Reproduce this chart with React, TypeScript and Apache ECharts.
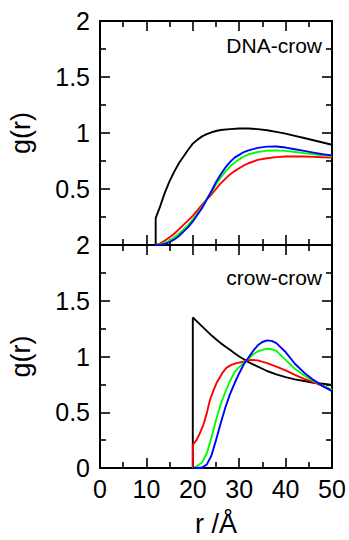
import React, { useEffect, useRef } from "react";
import * as echarts from "echarts";

// ---- data ----
const xTicks = [0, 10, 20, 30, 40, 50];

// DNA-crow panel
const rDnaBlack = [0, 12, 12, 13, 14, 15, 16, 17, 18, 19, 20, 21, 22, 23, 24, 25, 26, 28, 30, 32, 34, 36, 38, 40, 42, 44, 46, 48, 50];
const gDnaBlack = [0, 0, 0.24, 0.35, 0.47, 0.57, 0.655, 0.73, 0.79, 0.85, 0.905, 0.94, 0.97, 0.99, 1.005, 1.018, 1.027, 1.035, 1.04, 1.04, 1.035, 1.025, 1.01, 0.995, 0.975, 0.955, 0.935, 0.915, 0.895];

const rDnaColor = [12, 13, 14, 15, 16, 17, 18, 19, 20, 21, 22, 23, 24, 25, 26, 27, 28, 29, 30, 31, 32, 34, 36, 38, 40, 42, 44, 46, 48, 50];
const gDnaRed = [0, 0.015, 0.04, 0.07, 0.1, 0.14, 0.18, 0.22, 0.26, 0.31, 0.36, 0.405, 0.45, 0.5, 0.55, 0.59, 0.63, 0.66, 0.685, 0.71, 0.73, 0.76, 0.775, 0.785, 0.79, 0.79, 0.79, 0.787, 0.783, 0.78];
const gDnaGreen = [0, 0.008, 0.02, 0.04, 0.07, 0.1, 0.14, 0.18, 0.23, 0.28, 0.34, 0.41, 0.47, 0.54, 0.6, 0.655, 0.7, 0.735, 0.765, 0.79, 0.81, 0.83, 0.843, 0.845, 0.84, 0.83, 0.82, 0.81, 0.8, 0.795];
const gDnaBlue = [0, 0.003, 0.01, 0.025, 0.05, 0.08, 0.12, 0.16, 0.21, 0.27, 0.33, 0.405, 0.48, 0.56, 0.63, 0.69, 0.74, 0.78, 0.805, 0.83, 0.845, 0.867, 0.878, 0.88, 0.87, 0.855, 0.84, 0.825, 0.81, 0.8];

// crow-crow panel
const rCcBlack = [0, 20, 20, 21, 22, 23, 24, 25, 26, 27, 28, 29, 30, 31, 32, 33, 34, 35, 36, 38, 40, 42, 44, 46, 48, 50];
const gCcBlack = [0, 0, 1.35, 1.31, 1.27, 1.23, 1.19, 1.155, 1.12, 1.09, 1.06, 1.03, 1.0, 0.975, 0.95, 0.93, 0.91, 0.89, 0.87, 0.84, 0.815, 0.795, 0.78, 0.765, 0.755, 0.745];

const rCcRed = [20, 20, 20.8, 21.5, 22.3, 23, 23.7, 24.4, 25.2, 26.5, 27.3, 28.3, 29.4, 31.2, 32.5, 34, 36, 38, 40, 42, 44, 46, 48, 50];
const gCcRed = [0, 0.21, 0.25, 0.31, 0.39, 0.49, 0.61, 0.69, 0.77, 0.86, 0.9, 0.925, 0.94, 0.955, 0.97, 0.965, 0.94, 0.91, 0.875, 0.835, 0.8, 0.77, 0.735, 0.7];

const rCcColor = [20, 21, 22, 23, 24, 25, 26, 27, 28, 29, 30, 31, 32, 33, 34, 35, 36, 37, 38, 40, 42, 44, 46, 48, 50];
const gCcGreen = [0, 0.02, 0.05, 0.13, 0.27, 0.43, 0.57, 0.68, 0.78, 0.86, 0.905, 0.945, 0.98, 1.02, 1.045, 1.06, 1.07, 1.065, 1.05, 0.97, 0.89, 0.83, 0.78, 0.74, 0.7];
const gCcBlue = [0, 0, 0.005, 0.03, 0.11, 0.25, 0.4, 0.54, 0.66, 0.76, 0.85, 0.93, 0.99, 1.05, 1.1, 1.13, 1.145, 1.14, 1.12, 1.04, 0.935, 0.855, 0.79, 0.735, 0.69];

const zip = (r: number[], g: number[]) => r.map((v, i) => [v, g[i]]);

const FONT = "Liberation Sans";

export default function App() {
  const ref = useRef<HTMLDivElement>(null);
  useEffect(() => {
    const chart = echarts.init(ref.current!, null, { renderer: "svg" });
    const lineAxis = { show: true, lineStyle: { color: "#000", width: 2 } };
    const tick = { show: true, inside: true, length: 10, lineStyle: { color: "#000", width: 1.6 } };
    const minor = { show: true, splitNumber: 2, length: 6, lineStyle: { color: "#000", width: 1.6 } };
    const mkX = (gridIndex: number, position: string, showLabel: boolean, name?: string) => ({
      type: "value",
      gridIndex,
      position,
      min: 0,
      max: 50,
      interval: 10,
      axisLine: { ...lineAxis, onZero: false },
      axisTick: tick,
      minorTick: minor,
      splitLine: { show: false },
      axisLabel: {
        show: showLabel,
        fontSize: 25,
        fontFamily: FONT,
        color: "#000",
        margin: 8,
        formatter: (v: number) => (xTicks.includes(v) ? String(v) : ""),
      },
      name: name || "",
      nameLocation: "middle",
      nameGap: 42,
      nameTextStyle: { fontSize: 27, lineHeight: 28, fontFamily: FONT, color: "#000" },
    });
    const mkY = (gridIndex: number, position: string, showLabel: boolean, showMin: boolean, name?: string) => ({
      type: "value",
      gridIndex,
      position,
      min: 0,
      max: 2,
      interval: 0.5,
      axisLine: { ...lineAxis, onZero: false },
      axisTick: tick,
      minorTick: minor,
      splitLine: { show: false },
      axisLabel: {
        show: showLabel,
        showMinLabel: showMin,
        fontSize: 25,
        fontFamily: FONT,
        color: "#000",
        margin: 10,
      },
      name: name || "",
      nameLocation: "middle",
      nameGap: 66,
      nameTextStyle: { fontSize: 27, fontFamily: FONT, color: "#000" },
    });
    const line = (data: number[][], color: string, xAxisIndex: number, yAxisIndex: number) => ({
      type: "line",
      data,
      xAxisIndex,
      yAxisIndex,
      showSymbol: false,
      symbol: "none",
      lineStyle: { color, width: 1.9 },
      clip: false,
    });
    chart.setOption({
      animation: false,
      backgroundColor: "#fff",
      grid: [
        { left: 100, top: 21, width: 232, height: 224, containLabel: false, outerBoundsMode: "none" },
        { left: 100, top: 245, width: 232, height: 223, containLabel: false, outerBoundsMode: "none" },
      ],
      xAxis: [
        mkX(0, "bottom", false),
        mkX(0, "top", false),
        mkX(1, "bottom", true, "r /Å"),
        mkX(1, "top", false),
      ],
      yAxis: [
        mkY(0, "left", true, false, "g(r)"),
        mkY(0, "right", false, false),
        mkY(1, "left", true, true, "g(r)"),
        mkY(1, "right", false, false),
      ],
      graphic: [
        {
          type: "text",
          right: 27,
          top: 35,
          style: { text: "DNA-crow", fontSize: 21, fontFamily: FONT, fill: "#000" },
        },
        {
          type: "text",
          right: 27,
          top: 267,
          style: { text: "crow-crow", fontSize: 21, fontFamily: FONT, fill: "#000" },
        },
      ],
      series: [
        line(zip(rDnaBlack, gDnaBlack), "#000000", 0, 0),
        line(zip(rDnaColor, gDnaRed), "#ff0000", 0, 0),
        line(zip(rDnaColor, gDnaGreen), "#00ff00", 0, 0),
        line(zip(rDnaColor, gDnaBlue), "#0000ff", 0, 0),
        line(zip(rCcBlack, gCcBlack), "#000000", 2, 2),
        line(zip(rCcRed, gCcRed), "#ff0000", 2, 2),
        line(zip(rCcColor, gCcGreen), "#00ff00", 2, 2),
        line(zip(rCcColor, gCcBlue), "#0000ff", 2, 2),
      ],
    });
    return () => chart.dispose();
  }, []);
  return (
    <div
      ref={ref}
      style={{ position: "fixed", left: 0, top: 0, width: 349, height: 540, background: "#fff" }}
    />
  );
}
